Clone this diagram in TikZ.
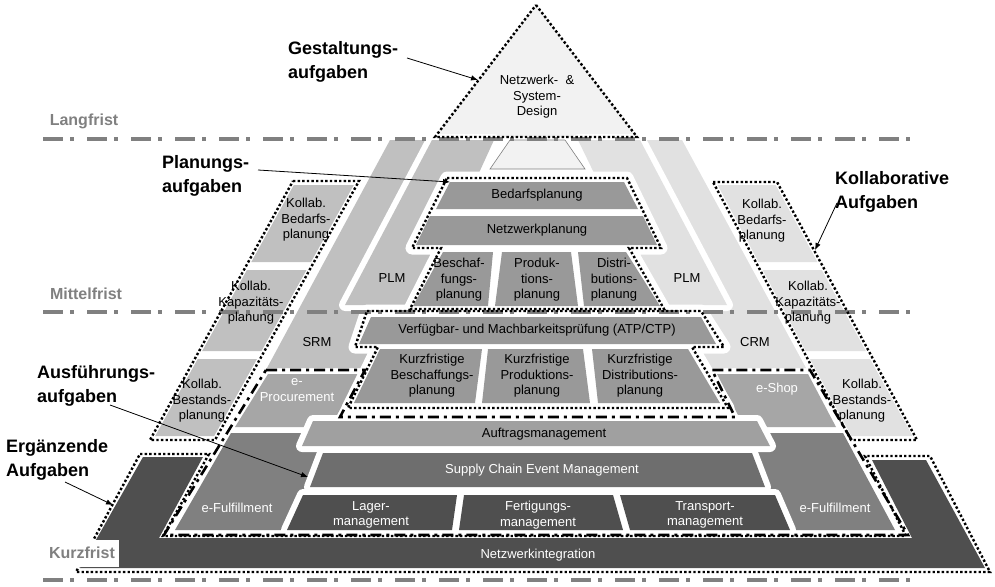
\documentclass[tikz,border=0pt]{standalone}
\usepackage{fontspec}
\setmainfont{Liberation Sans}
\usetikzlibrary{arrows.meta}
\definecolor{cTop}{HTML}{F2F2F2}
\definecolor{cL}{HTML}{C0C0C0}
\definecolor{cR}{HTML}{E1E1E1}
\definecolor{cPlan}{HTML}{999999}
\definecolor{cAuf}{HTML}{A0A0A0}
\definecolor{cEsh}{HTML}{A6A6A6}
\definecolor{cSCEM}{HTML}{6E6E6E}
\definecolor{cFul}{HTML}{808080}
\definecolor{cDark}{HTML}{4F4F4F}
\definecolor{cLine}{HTML}{808080}
\tikzset{
  halo/.style={draw=white,line width=#1,line join=round},
  halo/.default=12pt,
  dotfr/.style={draw=black,line width=2.4pt,dash pattern=on 2.4pt off 2.2pt},
  ddfr/.style={draw=black,line width=2.6pt,dash pattern=on 11pt off 5pt on 3pt off 5pt},
  tline/.style={draw=cLine,line width=4pt,dash pattern=on 20pt off 7pt on 4pt off 13pt},
  txt/.style={font=\fontsize{13}{15.5}\selectfont,align=center,inner sep=0pt},
  wtxt/.style={txt,text=white},
  big/.style={font=\bfseries\fontsize{18}{24}\selectfont,align=left,inner sep=0pt,anchor=west},
  tlab/.style={font=\bfseries\fontsize{16}{18}\selectfont,text=cLine,inner sep=0pt},
  arr/.style={-{Latex[length=7pt,width=5.5pt]},line width=0.8pt},
}
% shapes (pixel coordinates, y downwards)
\def\shTri{(536,5) -- (637,137) -- (435,137) -- cycle}
\def\shTrap{(510,140) -- (565,140) -- (585,169) -- (490,169) -- cycle}
\def\shSRM{(390,140) -- (440,140) -- (440,368) -- (267,368) -- cycle}
\def\shCRM{(630,140) -- (682,140) -- (806,368) -- (630,368) -- cycle}
\def\shDark{(143,457) -- (203,457) -- (159,538) -- (912,538) -- (872,460) -- (926,460) -- (985,568) -- (80,568) -- cycle}
\def\shEProc{(268,374) -- (359,374) -- (337,415) -- (320,421) -- (309,427) -- (235,427) -- cycle}
\def\shEShop{(717,374) -- (808,374) -- (836,427) -- (765,427) -- (738,415) -- cycle}
\def\shFulL{(231,433) -- (312,433) -- (332,455) -- (332,530) -- (175,530) -- cycle}
\def\shFulR{(745,433) -- (843,433) -- (895,530) -- (760,530) -- cycle}
\def\shPLML{(432,140) -- (494,140) -- (478,175) -- (478,305) -- (345,305) -- cycle}
\def\shPLMR{(578,140) -- (640,140) -- (727,305) -- (600,305) -- (595,175) -- cycle}
\def\shPlanFr{(447,178) -- (627,178) -- (661,248) -- (629,248) -- (664,309) -- (410,309) -- (441,248) -- (412,248) -- cycle}
\def\shATPFr{(367,311) -- (701,311) -- (724,347) -- (692,347) -- (728,408) -- (348,408) -- (378,347) -- (355,347) -- cycle}
\def\shAuf{(313,421) -- (757,421) -- (770,446) -- (302,446) -- cycle}
\def\shSCEM{(323,453) -- (752,453) -- (765,487) -- (310,487) -- cycle}
\def\shLag{(303,495) -- (457,495) -- (452,530) -- (287,530) -- cycle}
\def\shFert{(464,495) -- (613,495) -- (623,530) -- (459,530) -- cycle}
\def\shTrans{(620,495) -- (775,495) -- (790,530) -- (630,530) -- cycle}
\def\shKolL{(293,181) -- (359,181) -- (215,440) -- (150,440) -- cycle}
\def\shKolR{(713,182) -- (777,182) -- (917,440) -- (851,440) -- cycle}
\def\shErg{(140,454) -- (209,454) -- (163,536) -- (906,536) -- (865,456) -- (930,456) -- (990,572) -- (76,572) -- cycle}
\def\shAusf{(266,370) -- (365,370) -- (340,417) -- (735,417) -- (712,370) -- (810,370) -- (908,535) -- (164,535) -- cycle}
\begin{document}
\begin{tikzpicture}[x=1pt,y=-1pt]
\useasboundingbox (0,0) rectangle (995,586);
% ---------- layer 1 ----------
\fill[cTop] \shTri;
\fill[cL] \shSRM;
\fill[cR] \shCRM;
\fill[cDark] \shDark;
% Kollab blocks left
\fill[cL] (293.8,185) -- (353.8,185) -- (311,262) -- (251.3,262) -- cycle;
\fill[cL] (246.9,270) -- (306.5,270) -- (261.5,351) -- (202.2,351) -- cycle;
\fill[cL] (197.7,359) -- (257,359) -- (214.2,436) -- (155.2,436) -- cycle;
% Kollab blocks right
\fill[cR] (717.6,185) -- (775.6,185) -- (817.4,262) -- (758.5,262) -- cycle;
\fill[cR] (762.7,270) -- (821.8,270) -- (865.8,351) -- (805.7,351) -- cycle;
\fill[cR] (810,359) -- (870.1,359) -- (912.5,436) -- (851.4,436) -- cycle;
% ---------- layer 2 ----------
\draw[halo=10pt] \shEProc;
\draw[halo=10pt] \shEShop;
\draw[halo=10pt] \shFulL;
\draw[halo=10pt] \shFulR;
\fill[cEsh] \shEProc;
\fill[cEsh] \shEShop;
\fill[cFul] \shFulL;
\fill[cFul] \shFulR;
% ---------- layer 3 ----------
\draw[halo=12pt] \shPLML;
\draw[halo=12pt] \shPLMR;
\fill[cL] \shPLML;
\fill[cR] \shPLMR;
% ---------- layer 4 ----------
\draw[halo=13pt] \shPlanFr;
\draw[halo=13pt] \shATPFr;
\draw[halo=12pt] \shAuf;
\draw[halo=12pt] \shSCEM;
\draw[halo=12pt] \shLag;
\draw[halo=12pt] \shFert;
\draw[halo=12pt] \shTrans;
\fill[white] \shPlanFr;
\fill[white] \shATPFr;
\filldraw[fill=cTop,draw=cLine,line width=0.6pt] \shTrap;
% planning blocks
\fill[cPlan] (450,182) -- (624,182) -- (638,209) -- (436,209) -- cycle;
\fill[cPlan] (430,216) -- (643,216) -- (657,245) -- (416,245) -- cycle;
\fill[cPlan] (443,252) -- (493,252) -- (488,306) -- (413,306) -- cycle;
\fill[cPlan] (502,252) -- (571,252) -- (578,306) -- (495,306) -- cycle;
\fill[cPlan] (578,252) -- (626,252) -- (660,306) -- (584,306) -- cycle;
% ATP blocks
\fill[cPlan] (371,317) -- (701,317) -- (716,344) -- (359,344) -- cycle;
\fill[cPlan] (380,349) -- (482,349) -- (475,403) -- (354,403) -- cycle;
\fill[cPlan] (488,349) -- (583,349) -- (590,403) -- (482,403) -- cycle;
\fill[cPlan] (592,349) -- (688,349) -- (720,403) -- (598,403) -- cycle;
% execution blocks
\fill[cAuf] \shAuf;
\fill[cSCEM] \shSCEM;
\fill[cDark] \shLag;
\fill[cDark] \shFert;
\fill[cDark] \shTrans;
% ---------- layer 5: time lines and frames ----------
\draw[tline] (43,139) -- (910,139);
\draw[tline] (43,312) -- (910,312);
\draw[tline] (43,580) -- (910,580);
\draw[dotfr] \shTri;
\draw[dotfr] \shPlanFr;
\draw[dotfr] \shATPFr;
\draw[dotfr] \shKolL;
\draw[dotfr] \shKolR;
\draw[dotfr] \shErg;
\draw[ddfr] \shAusf;
% ---------- texts ----------
\node[txt] (tri) at (537,97) {Netzwerk- \ \&\\System-\\Design};
\node[txt] (bed) at (537,195) {Bedarfsplanung};
\node[txt] (netz) at (537,230) {Netzwerkplanung};
\node[txt] (besch) at (459,280) {Beschaf-\\fungs-\\planung};
\node[txt] (prod) at (537,280) {Produk-\\tions-\\planung};
\node[txt] (dist) at (614,280) {Distri-\\butions-\\planung};
\node[txt] (plml) at (392,278) {PLM};
\node[txt] (plmr) at (687,278) {PLM};
\node[txt] (srm) at (317,342) {SRM};
\node[txt] (crm) at (755,342) {CRM};
\node[txt] (atp) at (537,330) {Verfügbar- und Machbarkeitsprüfung (ATP/CTP)};
\node[txt] (kb) at (432,376) {Kurzfristige\\Beschaffungs-\\planung};
\node[txt] (kp) at (537,376) {Kurzfristige\\Produktions-\\planung};
\node[txt] (kd) at (640,376) {Kurzfristige\\Distributions-\\planung};
\node[wtxt] (eproc) at (297,390) {e-\\Procurement};
\node[wtxt] (eshop) at (777,389) {e-Shop};
\node[txt] (auf) at (544,434) {Auftragsmanagement};
\node[wtxt] (scem) at (542,470) {Supply Chain Event Management};
\node[wtxt] (lag) at (371,515) {Lager-\\management};
\node[wtxt] (fert) at (538,515) {Fertigungs-\\management};
\node[wtxt] (trans) at (705,515) {Transport-\\management};
\node[wtxt] (efull) at (237,508) {e-Fulfillment};
\node[wtxt] (efulr) at (835,508) {e-Fulfillment};
\node[wtxt] (nwi) at (538,555) {Netzwerkintegration};
\node[txt] (kl1) at (306,220) {Kollab.\\Bedarfs-\\planung};
\node[txt] (kl2) at (251,303) {Kollab.\\Kapazitäts-\\planung};
\node[txt] (kl3) at (202,401) {Kollab.\\Bestands-\\planung};
\node[txt] (kr1) at (762,221) {Kollab.\\Bedarfs-\\planung};
\node[txt] (kr2) at (808,303) {Kollab.\\Kapazitäts-\\planung};
\node[txt] (kr3) at (862,401) {Kollab.\\Bestands-\\planung};
% time labels
\node[tlab] (lang) at (84,121) {Langfrist};
\node[tlab] (mittel) at (86,294) {Mittelfrist};
\node[tlab,fill=white,minimum width=73pt,minimum height=27pt] (kurz) at (82,553) {Kurzfrist};
% bold labels with arrows
\node[big] (gest) at (288,62) {Gestaltungs-\\aufgaben};
\node[big] (plan) at (162,175.5) {Planungs-\\aufgaben};
\node[big] (koll) at (835,192) {Kollaborative\\Aufgaben};
\node[big] (ausf) at (37,385.5) {Ausführungs-\\aufgaben};
\node[big] (erg) at (6,459.5) {Ergänzende\\Aufgaben};
\coordinate (gestA) at (407,58);   \coordinate (gestB) at (478,80);
\coordinate (planA) at (258,170);  \coordinate (planB) at (450,182);
\coordinate (kollA) at (837,203);  \coordinate (kollB) at (815,250);
\coordinate (ausfA) at (110,405);  \coordinate (ausfB) at (308,477);
\coordinate (ergA) at (65,482);    \coordinate (ergB) at (113,505);
\draw[arr] (gestA) -- (gestB);
\draw[arr] (planA) -- (planB);
\draw[arr] (kollA) -- (kollB);
\draw[arr] (ausfA) -- (ausfB);
\draw[arr] (ergA) -- (ergB);
\end{tikzpicture}
\end{document}
